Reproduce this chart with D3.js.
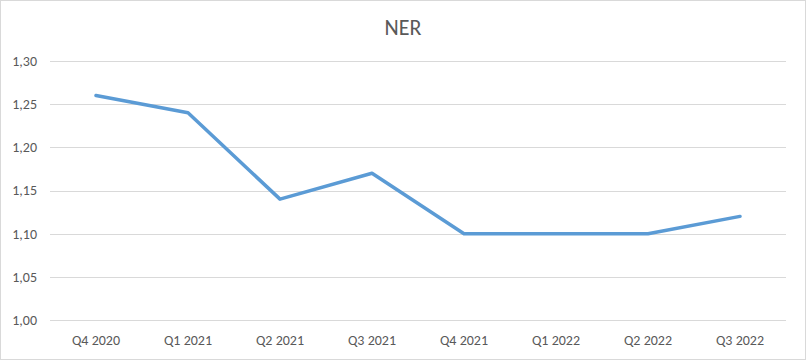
<!DOCTYPE html>
<html>
<head>
<meta charset="utf-8">
<script src="https://cdn.jsdelivr.net/npm/d3@7"></script>
<style>
  body { margin: 0; background: #fff; }
  svg { display: block; font-family: Calibri, Carlito, Lato, "Open Sans", "Liberation Sans", sans-serif; }
</style>
</head>
<body>
<div id="chart"></div>
<script>
// Data
const quarters = ["Q4 2020", "Q1 2021", "Q2 2021", "Q3 2021", "Q4 2021", "Q1 2022", "Q2 2022", "Q3 2022"];
const nerValues = [1.26, 1.24, 1.14, 1.17, 1.10, 1.10, 1.10, 1.12];
const yTicks = [1.00, 1.05, 1.10, 1.15, 1.20, 1.25, 1.30];

const WIDTH = 806, HEIGHT = 360;
const margin = { top: 61, right: 20, bottom: 40, left: 50 };

const svg = d3.select("#chart")
  .append("svg")
  .attr("width", WIDTH)
  .attr("height", HEIGHT);

// Outer border
svg.append("rect")
  .attr("x", 0.5).attr("y", 0.5)
  .attr("width", WIDTH - 1).attr("height", HEIGHT - 1)
  .attr("fill", "#fff")
  .attr("stroke", "#d9d9d9");

// Scales
const x = d3.scaleBand()
  .domain(quarters)
  .range([margin.left, WIDTH - margin.right]);

const y = d3.scaleLinear()
  .domain([1.0, 1.3])
  .range([HEIGHT - margin.bottom, margin.top]);

const fmt = (v) => d3.format(".2f")(v).replace(".", ",");

// Gridlines
svg.append("g")
  .selectAll("line")
  .data(yTicks)
  .enter()
  .append("line")
  .attr("x1", margin.left)
  .attr("x2", WIDTH - margin.right)
  .attr("y1", (d) => Math.round(y(d)) + 0.5)
  .attr("y2", (d) => Math.round(y(d)) + 0.5)
  .attr("stroke", "#d9d9d9")
  .attr("stroke-width", 1);

// Y labels
svg.append("g")
  .selectAll("text")
  .data(yTicks)
  .enter()
  .append("text")
  .attr("x", margin.left - 13)
  .attr("y", (d) => y(d))
  .attr("dy", "0.35em")
  .attr("text-anchor", "end")
  .attr("fill", "#595959")
  .style("font-size", "14px")
  .text(fmt);

// X labels
svg.append("g")
  .selectAll("text")
  .data(quarters)
  .enter()
  .append("text")
  .attr("x", (d) => x(d) + x.bandwidth() / 2)
  .attr("y", HEIGHT - margin.bottom + 25)
  .attr("text-anchor", "middle")
  .attr("fill", "#595959")
  .style("font-size", "14px")
  .text((d) => d);

// Line
const line = d3.line()
  .x((d, i) => x(quarters[i]) + x.bandwidth() / 2)
  .y((d) => y(d));

svg.append("path")
  .datum(nerValues)
  .attr("d", line)
  .attr("fill", "none")
  .attr("stroke", "#5b9bd5")
  .attr("stroke-width", 3.5)
  .attr("stroke-linejoin", "round")
  .attr("stroke-linecap", "round");

// Title
svg.append("text")
  .attr("x", WIDTH / 2)
  .attr("y", 35)
  .attr("text-anchor", "middle")
  .attr("fill", "#595959")
  .style("font-size", "22px")
  .text("NER");
</script>
</body>
</html>
